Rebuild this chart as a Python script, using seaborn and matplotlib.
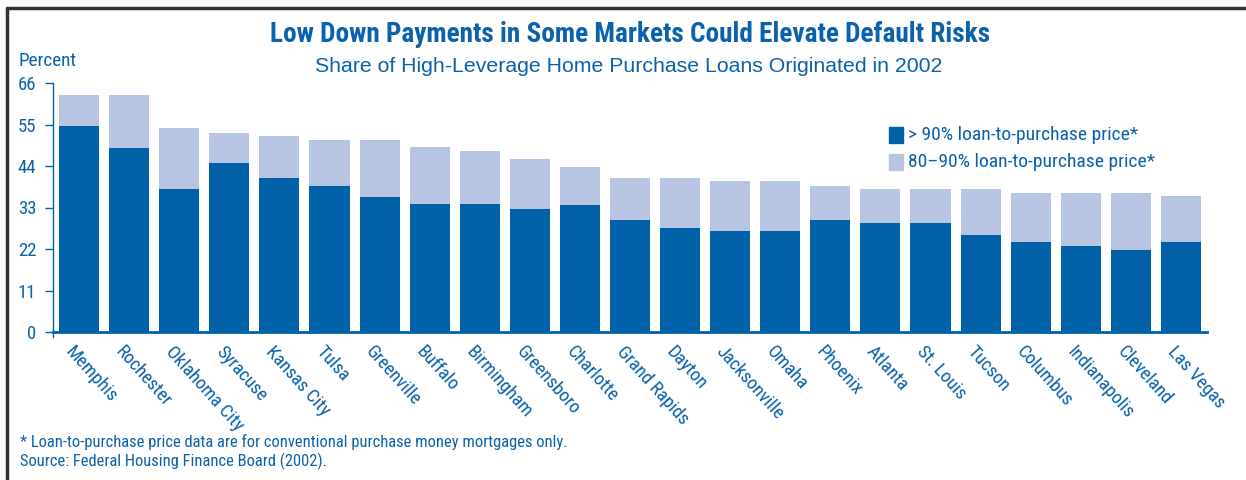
import matplotlib
matplotlib.use("Agg")
import matplotlib.pyplot as plt
import matplotlib.transforms as mtransforms
from matplotlib import font_manager
import pandas as pd
import seaborn as sns

cities = ["Memphis", "Rochester", "Oklahoma City", "Syracuse", "Kansas City", "Tulsa",
          "Greenville", "Buffalo", "Birmingham", "Greensboro", "Charlotte", "Grand Rapids",
          "Dayton", "Jacksonville", "Omaha", "Phoenix", "Atlanta", "St. Louis", "Tucson",
          "Columbus", "Indianapolis", "Cleveland", "Las Vegas"]
# > 90% loan-to-purchase price
over90 = [54.7, 48.8, 38.0, 44.9, 40.9, 38.8, 35.9, 34.0, 34.0, 32.7, 33.7, 29.8,
          27.6, 26.8, 26.8, 29.8, 29.0, 29.0, 25.8, 23.9, 22.9, 21.8, 23.9]
# 80-90% loan-to-purchase price (stacked on top)
from80to90 = [8.2, 14.1, 16.0, 7.8, 11.1, 12.2, 15.1, 15.0, 14.0, 13.2, 10.1, 11.1,
              13.3, 13.3, 13.3, 9.0, 9.0, 9.0, 12.2, 13.0, 14.0, 15.1, 12.2]
yticks = [0, 11, 22, 33, 44, 55, 66]

dark = "#0061A9"
light = "#B8C5E2"
txt = "#0A62AC"

# pick a condensed face if there is one
fonts = font_manager.fontManager.ttflist
names = {f.name for f in fonts}
narrow = "DejaVu Sans"
stretch = "normal"
for nm in ["Liberation Sans Narrow", "Roboto Condensed", "Open Sans Condensed", "Arial Narrow"]:
    if nm in names:
        narrow = nm
        break
else:
    if any(f.name == "DejaVu Sans" and str(f.stretch) in ("condensed", "semi-condensed")
           for f in fonts):
        stretch = "condensed"

df = pd.DataFrame({"city": cities, "over90": over90, "mid": from80to90})
df["total"] = df["over90"] + df["mid"]

sns.set_style("white")
plt.rcParams["font.family"] = [narrow, "DejaVu Sans"]
plt.rcParams["font.stretch"] = stretch

fig = plt.figure(figsize=(12.46, 4.8), dpi=100)
ax = fig.add_axes([53 / 1246, 1 - 332 / 480, (1207 - 53) / 1246, (332 - 83) / 480])

sns.barplot(data=df, x="city", y="total", color=light, width=0.8, ax=ax, saturation=1,
            linewidth=0)
sns.barplot(data=df, x="city", y="over90", color=dark, width=0.8, ax=ax, saturation=1,
            linewidth=0)

ax.set_xlim(-0.52, len(cities) - 0.48)
ax.set_ylim(0, 66)
ax.set_yticks(yticks)
ax.set_yticklabels([str(v) for v in yticks], fontsize=13.5, color=txt)
ax.tick_params(axis="y", direction="out", length=6, width=1, color=dark, pad=6, left=True)
ax.tick_params(axis="x", length=0, pad=8)
ax.set_xticks(range(len(cities)))
ax.set_xticklabels(cities, rotation=-48, ha="left", va="top", rotation_mode="anchor",
                   fontsize=13.5, color=txt)
offset = mtransforms.ScaledTranslation(-4 / 100, 0, fig.dpi_scale_trans)
for lab in ax.get_xticklabels():
    lab.set_transform(lab.get_transform() + offset)
ax.set_xlabel("")
ax.set_ylabel("")

for s in ["top", "right"]:
    ax.spines[s].set_visible(False)
ax.spines["left"].set_color(dark)
ax.spines["left"].set_linewidth(1)
ax.spines["left"].set_bounds(-1.2, 66)
ax.spines["bottom"].set_color(dark)
ax.spines["bottom"].set_linewidth(2)

# legend
fig.patches.append(plt.Rectangle((889 / 1246, 1 - 143 / 480), 14 / 1246, 16 / 480,
                                 transform=fig.transFigure, color=dark))
fig.patches.append(plt.Rectangle((889 / 1246, 1 - 170 / 480), 14 / 1246, 16 / 480,
                                 transform=fig.transFigure, color=light))
fig.text(908 / 1246, 1 - 135 / 480, "> 90% loan-to-purchase price*", fontsize=14,
         color=txt, va="center")
fig.text(908 / 1246, 1 - 162 / 480, "80\u201390% loan-to-purchase price*", fontsize=14,
         color=txt, va="center")

fig.text(630 / 1246, 1 - 35 / 480, "Low Down Payments in Some Markets Could Elevate Default Risks",
         fontsize=19.6, fontweight="bold", color=txt, ha="center", va="center")
fig.text(629 / 1246, 1 - 67 / 480, "Share of High-Leverage Home Purchase Loans Originated in 2002",
         fontsize=15.3, color=txt, ha="center", va="center", family="Liberation Sans",
         stretch="normal")
fig.text(18 / 1246, 1 - 61 / 480, "Percent", fontsize=13.8, color=txt, va="center")

fig.text(20 / 1246, 1 - 442 / 480,
         "* Loan-to-purchase price data are for conventional purchase money mortgages only.",
         fontsize=11.85, color=txt, va="center")
fig.text(20 / 1246, 1 - 461 / 480, "Source: Federal Housing Finance Board (2002).",
         fontsize=11.85, color=txt, va="center")

# frame lines on top and left
fig.add_artist(plt.Line2D([7 / 1246, 1], [1 - 8 / 480, 1 - 8 / 480], transform=fig.transFigure,
                          color="#333333", linewidth=2.5))
fig.add_artist(plt.Line2D([7 / 1246, 7 / 1246], [0, 1 - 8 / 480], transform=fig.transFigure,
                          color="#333333", linewidth=2.5))

fig.savefig("out.png", dpi=100)
